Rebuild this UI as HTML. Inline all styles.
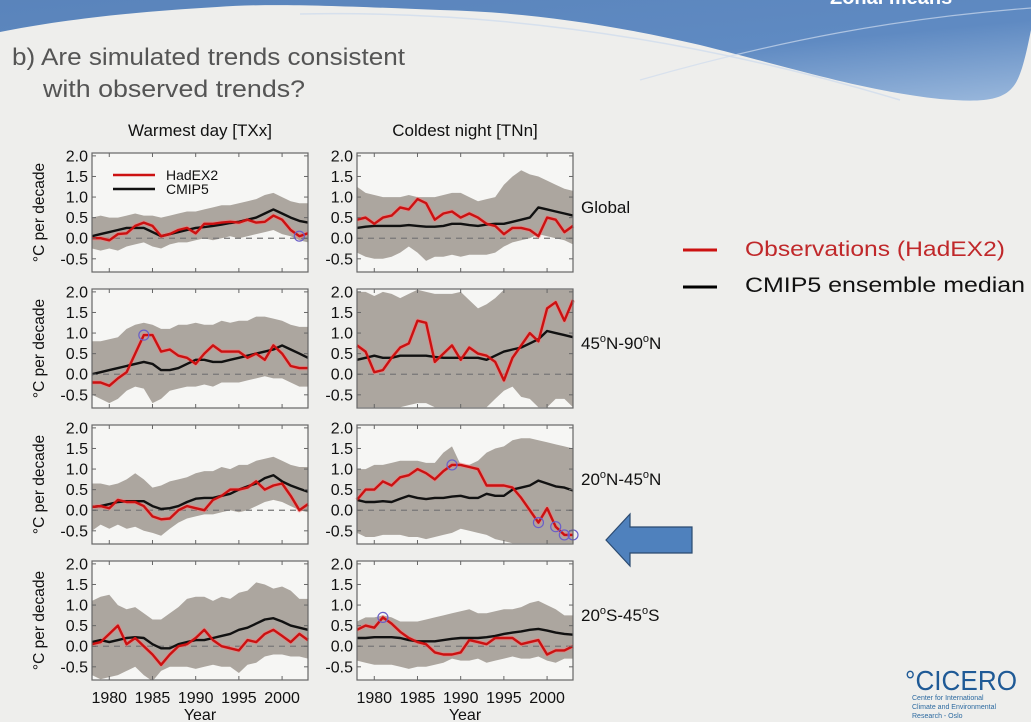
<!DOCTYPE html>
<html><head><meta charset="utf-8"><style>
html,body{margin:0;padding:0;background:#eeeeec;}
svg{display:block;}
</style></head><body>
<svg id="chart" width="1031" height="722" viewBox="0 0 1031 722" xmlns="http://www.w3.org/2000/svg" font-family="'Liberation Sans', sans-serif">
<defs>
<linearGradient id="hdr" x1="0" y1="0" x2="1" y2="1">
<stop offset="0" stop-color="#5a84bb"/><stop offset="0.6" stop-color="#5f8ac2"/><stop offset="1" stop-color="#9ab8dc"/>
</linearGradient>
</defs>
<rect x="0" y="0" width="1031" height="722" fill="#eeeeec"/>
<path d="M0,0 L1031,0 L1031,30 C1025,60 1020,80 1012,88 C1000,102 975,102 940,99 C860,90 800,70 700,45 C600,22 520,12 440,10 C340,6 270,3 217,7 C130,12 60,20 0,32 Z" fill="url(#hdr)"/>
<path d="M300,14 C500,10 700,40 900,100" stroke="#cfdcee" stroke-width="1.5" fill="none" opacity="0.8"/>
<path d="M640,80 C780,40 900,18 1031,8" stroke="#cfdcee" stroke-width="1.2" fill="none" opacity="0.7"/>
<text x="830" y="4" fill="#ffffff" font-size="20" font-weight="bold">Zonal means</text>
<text x="12" y="65" fill="#555555" font-size="24" textLength="393" lengthAdjust="spacingAndGlyphs">b) Are simulated trends consistent</text>
<text x="43" y="97" fill="#555555" font-size="24" textLength="262" lengthAdjust="spacingAndGlyphs">with observed trends?</text>
<text x="200" y="136" text-anchor="middle" font-size="17" fill="#111">Warmest day [TXx]</text>
<text x="465" y="136" text-anchor="middle" font-size="17" fill="#111">Coldest night [TNn]</text>

<line x1="683" y1="250" x2="717" y2="250" stroke="#cc1111" stroke-width="3"/>
<text x="745" y="256" font-size="21" fill="#c0282a" textLength="260" lengthAdjust="spacingAndGlyphs">Observations (HadEX2)</text>
<line x1="683" y1="287" x2="717" y2="287" stroke="#000" stroke-width="3"/>
<text x="745" y="292" font-size="21" fill="#111" textLength="280" lengthAdjust="spacingAndGlyphs">CMIP5 ensemble median</text>

<path d="M606,540 L630,514 L630,527 L692,527 L692,553 L630,553 L630,566 Z" fill="#4f81bd" stroke="#2b4a70" stroke-width="1.2"/>

<g>
<text x="905" y="690" font-size="28" fill="#1f5a96" textLength="112" lengthAdjust="spacingAndGlyphs">°CICERO</text>
<text x="912" y="700" font-size="7" fill="#2d6aa0">Center for International</text>
<text x="912" y="709" font-size="7" fill="#2d6aa0">Climate and Environmental</text>
<text x="912" y="718" font-size="7" fill="#2d6aa0">Research - Oslo</text>
</g>
<g id="plots"></g>
</svg>
<script>
const years = [1978,1979,1980,1981,1982,1983,1984,1985,1986,1987,1988,1989,1990,1991,1992,1993,1994,1995,1996,1997,1998,1999,2000,2001,2002,2003];
const yTicks = [2.0,1.5,1.0,0.5,0.0,-0.5];
const yTickLabels = ["2.0","1.5","1.0","0.5","0.0","-0.5"];
const xTicks = [1980,1985,1990,1995,2000];
const xTickLabels = ["1980","1985","1990","1995","2000"];

const txxGlobalObs = [0.0,0.0,-0.05,0.1,0.12,0.3,0.38,0.3,0.05,0.1,0.2,0.25,0.12,0.35,0.35,0.38,0.4,0.38,0.45,0.38,0.4,0.55,0.45,0.2,0.05,0.12];
const txxGlobalMed = [0.05,0.1,0.15,0.2,0.25,0.25,0.25,0.15,0.05,0.1,0.15,0.2,0.25,0.27,0.3,0.33,0.37,0.4,0.45,0.5,0.6,0.7,0.6,0.5,0.42,0.38];
const txxGlobalHi = [0.5,0.55,0.5,0.5,0.55,0.6,0.55,0.55,0.5,0.55,0.6,0.65,0.65,0.7,0.75,0.8,0.8,0.85,0.9,0.95,1.05,1.1,1.0,0.9,0.85,0.85];
const txxGlobalLo = [-0.25,-0.3,-0.25,-0.3,-0.2,-0.15,-0.1,-0.2,-0.25,-0.15,-0.1,-0.1,-0.05,0.0,-0.05,0.0,0.05,0.0,0.05,0.1,0.15,0.2,0.1,0.05,-0.05,-0.1];

const txxNorthObs = [-0.2,-0.2,-0.28,-0.1,0.05,0.5,0.95,0.95,0.55,0.6,0.45,0.4,0.25,0.5,0.7,0.55,0.55,0.55,0.4,0.5,0.35,0.7,0.5,0.2,0.15,0.15];
const txxNorthMed = [0.0,0.05,0.1,0.15,0.2,0.25,0.3,0.25,0.1,0.1,0.15,0.25,0.35,0.35,0.3,0.3,0.35,0.4,0.45,0.5,0.55,0.6,0.7,0.6,0.5,0.4];
const txxNorthHi = [0.8,0.8,0.85,0.9,1.1,1.2,1.25,1.2,1.1,1.1,1.2,1.2,1.25,1.2,1.2,1.3,1.25,1.3,1.3,1.4,1.4,1.35,1.3,1.2,1.15,1.15];
const txxNorthLo = [-0.5,-0.6,-0.7,-0.6,-0.4,-0.3,-0.35,-0.7,-0.6,-0.4,-0.35,-0.3,-0.3,-0.25,-0.3,-0.2,-0.2,-0.2,-0.15,-0.1,-0.05,-0.1,-0.1,-0.2,-0.3,-0.3];

const txxMidNObs = [0.08,0.1,0.05,0.25,0.2,0.2,0.1,-0.15,-0.22,-0.2,0.0,0.1,0.05,0.0,0.25,0.35,0.5,0.5,0.55,0.7,0.5,0.6,0.65,0.35,0.0,0.15];
const txxMidNMed = [0.08,0.1,0.15,0.2,0.22,0.22,0.22,0.1,0.03,0.05,0.1,0.2,0.28,0.3,0.3,0.35,0.4,0.5,0.58,0.65,0.78,0.85,0.7,0.6,0.52,0.45];
const txxMidNHi = [0.65,0.65,0.6,0.65,0.75,0.9,0.75,0.55,0.6,0.7,0.75,0.8,0.9,0.95,0.95,1.05,1.0,1.1,1.1,1.2,1.25,1.3,1.2,1.1,1.05,1.05];
const txxMidNLo = [-0.5,-0.35,-0.45,-0.35,-0.45,-0.4,-0.5,-0.55,-0.62,-0.45,-0.3,-0.2,-0.15,-0.1,-0.1,-0.05,0.0,-0.05,0.0,0.1,0.2,0.25,0.2,0.1,0.0,-0.05];

const txxMidSObs = [0.05,0.1,0.3,0.5,0.05,0.2,0.0,-0.2,-0.45,-0.2,0.0,0.05,0.2,0.4,0.15,0.0,-0.05,-0.1,0.15,0.1,0.3,0.4,0.25,0.1,0.3,0.15];
const txxMidSMed = [0.1,0.15,0.1,0.15,0.2,0.22,0.2,0.05,-0.05,-0.05,0.05,0.1,0.15,0.15,0.2,0.25,0.3,0.4,0.45,0.55,0.65,0.68,0.6,0.5,0.45,0.4];
const txxMidSHi = [1.1,1.2,1.25,1.0,0.9,0.95,0.8,0.65,0.65,0.8,0.95,1.15,1.2,1.2,1.1,1.2,1.15,1.3,1.35,1.55,1.5,1.4,1.45,1.35,1.15,1.15];
const txxMidSLo = [-0.7,-0.8,-0.75,-0.7,-0.6,-0.5,-0.7,-0.85,-0.6,-0.5,-0.5,-0.5,-0.55,-0.5,-0.45,-0.5,-0.5,-0.65,-0.45,-0.4,-0.25,-0.2,-0.2,-0.25,-0.25,-0.3];

const tnnGlobalObs = [0.45,0.5,0.35,0.5,0.55,0.75,0.7,0.95,0.85,0.45,0.6,0.65,0.5,0.6,0.5,0.35,0.3,0.1,0.25,0.25,0.2,0.05,0.5,0.45,0.15,0.3];
const tnnGlobalMed = [0.25,0.28,0.3,0.3,0.3,0.3,0.32,0.3,0.28,0.28,0.3,0.35,0.35,0.32,0.3,0.33,0.35,0.35,0.4,0.45,0.5,0.75,0.7,0.65,0.6,0.55];
const tnnGlobalHi = [1.25,1.1,1.05,1.0,1.0,1.0,1.05,1.0,1.0,1.0,1.05,1.1,1.1,1.0,0.9,0.95,1.0,1.3,1.5,1.65,1.55,1.5,1.4,1.3,1.2,1.15];
const tnnGlobalLo = [-0.35,-0.45,-0.5,-0.5,-0.45,-0.35,-0.2,-0.35,-0.55,-0.45,-0.45,-0.4,-0.45,-0.4,-0.4,-0.4,-0.35,-0.2,-0.1,-0.05,0.0,0.1,0.05,0.0,-0.05,-0.15];

const tnnNorthObs = [0.7,0.55,0.05,0.1,0.4,0.65,0.75,1.3,1.25,0.3,0.5,0.7,0.35,0.65,0.5,0.45,0.3,-0.15,0.4,0.7,1.0,0.8,1.6,1.75,1.3,1.8];
const tnnNorthMed = [0.35,0.4,0.45,0.4,0.4,0.45,0.45,0.45,0.45,0.42,0.4,0.4,0.4,0.4,0.4,0.35,0.45,0.55,0.6,0.65,0.75,0.85,1.05,1.0,0.95,0.9];
const tnnNorthHi = [2.0,2.0,1.9,2.0,1.95,1.85,1.95,2.05,2.0,1.95,1.95,1.95,2.0,1.8,1.6,1.7,1.85,2.05,2.05,2.05,2.05,2.05,2.05,2.05,2.05,2.05];
const tnnNorthLo = [-0.8,-0.8,-0.8,-0.8,-0.8,-0.8,-0.75,-0.7,-0.7,-0.8,-0.8,-0.8,-0.8,-0.8,-0.8,-0.8,-0.6,-0.4,-0.3,-0.55,-0.6,-0.8,-0.8,-0.6,-0.6,-0.8];

const tnnMidNObs = [0.25,0.5,0.5,0.7,0.6,0.8,0.85,1.0,0.9,0.75,0.95,1.1,1.1,1.05,1.0,0.6,0.6,0.6,0.55,0.3,0.0,-0.3,0.05,-0.4,-0.6,-0.6];
const tnnMidNMed = [0.25,0.2,0.2,0.22,0.2,0.28,0.35,0.3,0.27,0.3,0.3,0.33,0.35,0.3,0.3,0.4,0.35,0.35,0.5,0.55,0.6,0.72,0.65,0.58,0.55,0.48];
const tnnMidNHi = [1.0,1.0,1.1,1.1,1.15,1.2,1.2,1.2,1.15,1.15,1.4,1.55,1.1,1.1,1.2,1.4,1.5,1.55,1.7,1.75,1.75,1.7,1.65,1.6,1.55,1.5];
const tnnMidNLo = [-0.55,-0.65,-0.65,-0.6,-0.6,-0.6,-0.65,-0.65,-0.7,-0.65,-0.6,-0.55,-0.45,-0.5,-0.55,-0.6,-0.7,-0.75,-0.8,-0.8,-0.8,-0.8,-0.8,-0.8,-0.8,-0.8];

const tnnMidSObs = [0.4,0.5,0.45,0.7,0.55,0.35,0.2,0.1,0.05,-0.15,-0.2,-0.2,-0.15,0.15,0.1,0.05,0.2,0.2,0.2,0.05,0.1,0.15,-0.2,-0.1,-0.1,0.0];
const tnnMidSMed = [0.2,0.2,0.22,0.22,0.22,0.2,0.15,0.12,0.12,0.12,0.15,0.18,0.2,0.2,0.2,0.22,0.25,0.3,0.33,0.36,0.4,0.42,0.38,0.33,0.3,0.28];
const tnnMidSHi = [0.6,0.7,0.7,0.75,0.7,0.6,0.6,0.6,0.65,0.7,0.75,0.8,0.85,0.9,0.8,0.8,0.85,0.9,0.9,0.95,1.05,1.1,1.0,0.9,0.75,0.75];
const tnnMidSLo = [-0.35,-0.4,-0.45,-0.45,-0.45,-0.5,-0.55,-0.5,-0.5,-0.45,-0.4,-0.3,-0.35,-0.35,-0.3,-0.4,-0.35,-0.3,-0.25,-0.3,-0.3,-0.25,-0.35,-0.4,-0.3,-0.3];

const txxGlobalFlags = [2002];
const txxNorthFlags = [1984];
const tnnMidNFlags = [1989,1999,2001,2002,2003];
const tnnMidSFlags = [1981];

const rowLabels = [["Global"],["45","N-90","N"],["20","N-45","N"],["20","S-45","S"]];

const panels = [
 {name:'txx-global',col:0,row:0,obs:txxGlobalObs,med:txxGlobalMed,hi:txxGlobalHi,lo:txxGlobalLo,flags:txxGlobalFlags},
 {name:'txx-45n-90n',col:0,row:1,obs:txxNorthObs,med:txxNorthMed,hi:txxNorthHi,lo:txxNorthLo,flags:txxNorthFlags},
 {name:'txx-20n-45n',col:0,row:2,obs:txxMidNObs,med:txxMidNMed,hi:txxMidNHi,lo:txxMidNLo,flags:[]},
 {name:'txx-20s-45s',col:0,row:3,obs:txxMidSObs,med:txxMidSMed,hi:txxMidSHi,lo:txxMidSLo,flags:[]},
 {name:'tnn-global',col:1,row:0,obs:tnnGlobalObs,med:tnnGlobalMed,hi:tnnGlobalHi,lo:tnnGlobalLo,flags:[]},
 {name:'tnn-45n-90n',col:1,row:1,obs:tnnNorthObs,med:tnnNorthMed,hi:tnnNorthHi,lo:tnnNorthLo,flags:[]},
 {name:'tnn-20n-45n',col:1,row:2,obs:tnnMidNObs,med:tnnMidNMed,hi:tnnMidNHi,lo:tnnMidNLo,flags:tnnMidNFlags},
 {name:'tnn-20s-45s',col:1,row:3,obs:tnnMidSObs,med:tnnMidSMed,hi:tnnMidSHi,lo:tnnMidSLo,flags:tnnMidSFlags}
];

const NS='http://www.w3.org/2000/svg';
const root=document.getElementById('plots');
const colLeft=[92,357], rowTop=[153,289,425,561], W=216, H=119, VMAX=2.07, VMIN=-0.82;
function mk(tag,attrs,parent){const e=document.createElementNS(NS,tag);for(const k in attrs)e.setAttribute(k,attrs[k]);(parent||root).appendChild(e);return e;}
function xs(col,yr){return colLeft[col]+(yr-years[0])*W/(years[years.length-1]-years[0]);}
function ys(row,v){return rowTop[row]+H*(VMAX-v)/(VMAX-VMIN);}

panels.forEach(p=>{
  const g=mk('g',{});
  
  
  const L=colLeft[p.col],T=rowTop[p.row];
  const cid='clip-'+p.name;
  const cp=mk('clipPath',{id:cid},g); mk('rect',{x:L,y:T,width:W,height:H},cp);
  const bg=mk('rect',{x:L,y:T,width:W,height:H,fill:'#f6f6f4'},g);
  
  
  let d='';
  years.forEach((yr,i)=>{d+=(i?'L':'M')+xs(p.col,yr).toFixed(1)+','+ys(p.row,p.hi[i]).toFixed(1);});
  for(let i=years.length-1;i>=0;i--){d+='L'+xs(p.col,years[i]).toFixed(1)+','+ys(p.row,p.lo[i]).toFixed(1);}
  const band=mk('path',{d:d+'Z',fill:'#aca69f','clip-path':'url(#'+cid+')'},g);
  
  
  const z=mk('line',{x1:L,x2:L+W,y1:ys(p.row,0),y2:ys(p.row,0),stroke:'#777','stroke-width':1.2,'stroke-dasharray':'6,5'},g);
  
  
  const pts=arr=>years.map((yr,i)=>xs(p.col,yr).toFixed(1)+','+ys(p.row,arr[i]).toFixed(1)).join(' ');
  const halo=mk('polyline',{points:pts(p.obs),fill:'none',stroke:'#f08080','stroke-width':4.5,opacity:0.55,'stroke-linejoin':'round'},g);
  
  
  const med=mk('polyline',{points:pts(p.med),fill:'none',stroke:'#111','stroke-width':2.4,'stroke-linejoin':'round'},g);
  
  
  const obs=mk('polyline',{points:pts(p.obs),fill:'none',stroke:'#cc1111','stroke-width':2.4,'stroke-linejoin':'round'},g);
  
  
  p.flags.forEach(yr=>{
    const i=years.indexOf(yr);
    const c=mk('circle',{cx:xs(p.col,yr),cy:ys(p.row,p.obs[i]),r:5,fill:'none',stroke:'#6a5fc8','stroke-width':1.2},g);
    
    
  });
  const fr=mk('rect',{x:L,y:T,width:W,height:H,fill:'none',stroke:'#666','stroke-width':1.2},g);
  
  
  yTicks.forEach((v,i)=>{
    const y=ys(p.row,v);
    mk('line',{x1:L,x2:L+4,y1:y,y2:y,stroke:'#666'},g);
    mk('line',{x1:L+W,x2:L+W-4,y1:y,y2:y,stroke:'#666'},g);
    const t=mk('text',{x:L-4,y:y+5.5,'text-anchor':'end','font-size':16,fill:'#111'},g);
    t.textContent=yTickLabels[i];
    
    
  });
  xTicks.forEach((yr,i)=>{
    const x=xs(p.col,yr);
    mk('line',{x1:x,x2:x,y1:T,y2:T+4,stroke:'#666'},g);
    mk('line',{x1:x,x2:x,y1:T+H,y2:T+H-4,stroke:'#666'},g);
    if(p.row===3){
      const t=mk('text',{x:x,y:703,'text-anchor':'middle','font-size':16,fill:'#111'},g);
      t.textContent=xTickLabels[i];
      
      
    }
  });
  if(p.row===3){
    const t=mk('text',{x:L+W/2,y:720,'text-anchor':'middle','font-size':16,fill:'#111'},g);
    t.textContent='Year';
    
    
  }
  if(p.col===0){
    const cy=T+H/2;
    const t=mk('text',{x:0,y:0,transform:'translate(44,'+cy+') rotate(-90)','text-anchor':'middle','font-size':15.5,fill:'#111'},g);
    t.textContent='°C per decade';
    
    
  }
  if(p.col===1){
    const parts=rowLabels[p.row];
    const t=mk('text',{x:581,y:T+60,'font-size':17,fill:'#111'},g);
    
    
    if(parts.length===1){t.textContent=parts[0];}
    else{
      const a=mk('tspan',{},t);a.textContent=parts[0];
      const o1=mk('tspan',{dy:-7,'font-size':11},t);o1.textContent='o';
      const b=mk('tspan',{dy:7},t);b.textContent=parts[1];
      const o2=mk('tspan',{dy:-7,'font-size':11},t);o2.textContent='o';
      const c=mk('tspan',{dy:7},t);c.textContent=parts[2];
    }
  }
});
// in-plot legend (top-left panel)
const lg=mk('g',{});


mk('line',{x1:113,x2:155,y1:175,y2:175,stroke:'#cc1111','stroke-width':2.6},lg);
mk('line',{x1:113,x2:155,y1:189,y2:189,stroke:'#111','stroke-width':2.6},lg);
const l1=mk('text',{x:166,y:180,'font-size':14,fill:'#111'},lg);l1.textContent='HadEX2';
const l2=mk('text',{x:166,y:194,'font-size':14,fill:'#111'},lg);l2.textContent='CMIP5';
</script>
</body></html>
